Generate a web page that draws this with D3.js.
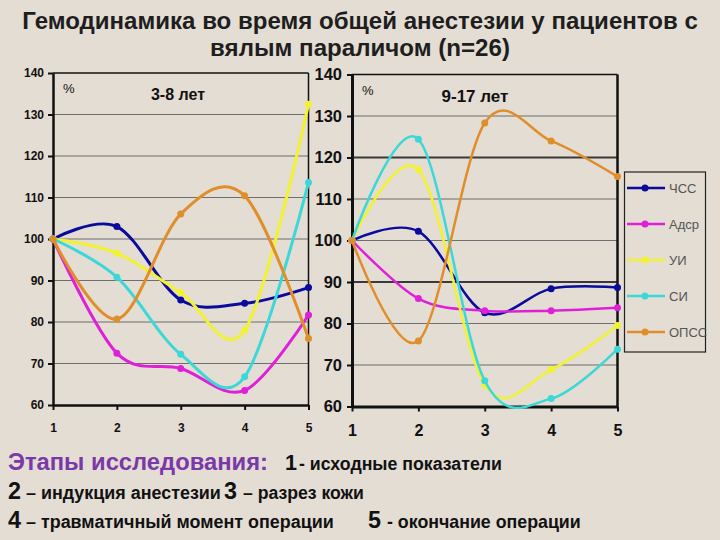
<!DOCTYPE html>
<html><head><meta charset="utf-8">
<script src="https://cdn.jsdelivr.net/npm/d3@7/dist/d3.min.js"></script>
<style>
html,body{margin:0;padding:0;background:#e3ddd3;}
svg{display:block;}
</style></head>
<body>
<svg id="c" width="720" height="540"></svg>
<script>
// ---- data ----
const stages = [1, 2, 3, 4, 5];
const yTicks = [60, 70, 80, 90, 100, 110, 120, 130, 140];
const seriesNames = ["ЧСС", "Адср", "УИ", "СИ", "ОПСС"];
const seriesColors = ["#0a0a9c", "#e020d8", "#f2f230", "#3cd8d8", "#e08e2a"];
// 3-8 лет
const young_CSS  = [100, 103.0, 85.3, 84.5, 88.3];
const young_Adr  = [100, 72.5, 68.8, 63.5, 81.7];
const young_UI   = [100, 96.6, 87.1, 78.0, 132.5];
const young_SI   = [100, 90.8, 72.2, 66.8, 113.6];
const young_OPSS = [100, 80.7, 106.0, 110.4, 76.0];
// 9-17 лет
const old_CSS  = [100, 102.2, 82.6, 88.4, 88.7];
const old_Adr  = [100, 86.0, 83.1, 83.1, 83.8];
const old_UI   = [100, 117.1, 65.2, 68.9, 79.5];
const old_SI   = [100, 124.4, 66.2, 61.9, 73.8];
const old_OPSS = [100, 75.8, 128.3, 124.0, 115.4];

const titleLines = ["Гемодинамика во время общей анестезии у пациентов с", "вялым параличом (n=26)"];

const svg = d3.select("#c");
const BOLD = "'Liberation Sans', Arial, sans-serif";
const NARROW = "'Liberation Sans Narrow', 'Arial Narrow', 'Liberation Sans', Arial, sans-serif";

function fit(t, w) {
  const n = t.node();
  const cur = n.getComputedTextLength();
  const fs = parseFloat(t.attr("font-size"));
  if (cur > 0) t.attr("font-size", (fs * w / cur).toFixed(2));
  return t;
}

// ---- title ----
fit(svg.append("text").attr("x", 360).attr("y", 29).attr("text-anchor", "middle")
  .attr("font-family", NARROW).attr("font-weight", "bold").attr("font-size", 24)
  .attr("fill", "#1e1e1e").text(titleLines[0]), 676);
fit(svg.append("text").attr("x", 360).attr("y", 56).attr("text-anchor", "middle")
  .attr("font-family", NARROW).attr("font-weight", "bold").attr("font-size", 24)
  .attr("fill", "#1e1e1e").text(titleLines[1]), 300);

function panel(cfg) {
  const x = d3.scaleLinear().domain([1, 5]).range([cfg.x0, cfg.x1]);
  const y = d3.scaleLinear().domain([60, 140]).range([cfg.y0, cfg.y1]);
  const g = svg.append("g");
  // gridlines
  g.selectAll("line.grid").data(yTicks.slice(1, -1)).join("line")
    .attr("x1", cfg.x0).attr("x2", cfg.x1)
    .attr("y1", d => y(d)).attr("y2", d => y(d))
    .attr("stroke", d => cfg.darkGrid.includes(d) ? "#3a3a3a" : "#6e6e6e")
    .attr("stroke-width", d => cfg.darkGrid.includes(d) ? 2 : 1.2);
  // frame top + right
  g.append("line").attr("x1", cfg.x0).attr("x2", cfg.x1).attr("y1", y(140)).attr("y2", y(140))
    .attr("stroke", "#111").attr("stroke-width", 1.5);
  g.append("line").attr("x1", cfg.x1).attr("x2", cfg.x1).attr("y1", y(140)).attr("y2", y(60))
    .attr("stroke", "#111").attr("stroke-width", cfg.rightW);
  // axes
  const ay = g.append("g").attr("transform", `translate(${cfg.x0},0)`)
    .call(d3.axisLeft(y).tickValues(yTicks).tickSize(5).tickSizeOuter(0).tickPadding(cfg.yPad));
  const ax = g.append("g").attr("transform", `translate(0,${cfg.y0})`)
    .call(d3.axisBottom(x).tickValues(stages).tickFormat(d3.format("d")).tickSize(5).tickSizeOuter(0).tickPadding(cfg.xPad));
  [ay, ax].forEach(a => {
    a.select(".domain").attr("stroke", "#111").attr("stroke-width", cfg.axisW);
    a.selectAll(".tick line").attr("stroke", "#111").attr("stroke-width", 2);
    a.selectAll(".tick text").attr("fill", "#111").attr("font-family", cfg.tickFont)
      .attr("font-weight", "bold").attr("font-size", cfg.tickSize);
  });
  ax.selectAll(".tick text").attr("font-size", cfg.xTickSize);
  // labels
  g.append("text").attr("x", cfg.x0 + 10).attr("y", y(140) + 20).attr("font-family", BOLD)
    .attr("font-size", 13).attr("fill", "#111").text("%");
  g.append("text").attr("x", cfg.labelX).attr("y", y(140) + 27).attr("text-anchor", "middle")
    .attr("font-family", cfg.labelFont).attr("font-weight", "bold").attr("font-size", cfg.labelSize)
    .attr("fill", "#111").text(cfg.label);
  // lines
  const line = d3.line().x((d, i) => x(stages[i])).y(d => y(d)).curve(d3.curveCardinal.tension(0));
  cfg.series.forEach((vals, k) => {
    g.append("path").attr("d", line(vals)).attr("fill", "none")
      .attr("stroke", seriesColors[k]).attr("stroke-width", cfg.lineW)
      .attr("stroke-linejoin", "round").attr("stroke-linecap", "round");
    g.selectAll(null).data(vals).join("circle")
      .attr("cx", (d, i) => x(stages[i])).attr("cy", d => y(d)).attr("r", 3.5)
      .attr("fill", seriesColors[k]);
  });
}

panel({
  x0: 53, x1: 308.5, y0: 405, y1: 73, darkGrid: [], rightW: 1.5, axisW: 2.5,
  yPad: 4, xPad: 13, tickFont: NARROW, tickSize: 12, xTickSize: 12,
  label: "3-8 лет", labelX: 178, labelFont: NARROW, labelSize: 16,
  lineW: 3,
  series: [young_CSS, young_Adr, young_UI, young_SI, young_OPSS]
});
panel({
  x0: 352, x1: 617.5, y0: 406.5, y1: 74.5, darkGrid: [90, 120], rightW: 2.5, axisW: 3,
  yPad: 5, xPad: 13, tickFont: BOLD, tickSize: 16.5, xTickSize: 16,
  label: "9-17 лет", labelX: 475, labelFont: BOLD, labelSize: 17,
  lineW: 2.5,
  series: [old_CSS, old_Adr, old_UI, old_SI, old_OPSS]
});

// ---- legend ----
const lg = svg.append("g");
lg.append("rect").attr("x", 624.5).attr("y", 172).attr("width", 81).attr("height", 180)
  .attr("fill", "none").attr("stroke", "#222").attr("stroke-width", 1.2);
const legY = d3.scalePoint().domain(seriesNames).range([188, 332]);
seriesNames.forEach((nm, k) => {
  const yy = legY(nm);
  lg.append("line").attr("x1", 627).attr("x2", 665).attr("y1", yy).attr("y2", yy)
    .attr("stroke", seriesColors[k]).attr("stroke-width", 2.5);
  lg.append("circle").attr("cx", 645).attr("cy", yy).attr("r", 3.5).attr("fill", seriesColors[k]);
  lg.append("text").attr("x", 669).attr("y", yy + 4.5).attr("font-family", BOLD)
    .attr("font-size", 13).attr("fill", "#555").text(nm);
});

// ---- bottom notes ----
function piece(x, y, txt, size, color, font, w) {
  const t = svg.append("text").attr("x", x).attr("y", y).attr("font-family", font)
    .attr("font-weight", "bold").attr("font-size", size).attr("fill", color).text(txt);
  if (w) fit(t, w);
  return t;
}
piece(8, 470, "Этапы исследования:", 21, "#7a38a8", BOLD, 260);
piece(285, 470, "1", 24, "#111", NARROW, 12);
piece(299, 470, "- исходные показатели", 18, "#111", NARROW, 203);
piece(8, 499, "2", 24, "#111", NARROW, 13);
piece(26, 499, "– индукция анестезии", 18, "#111", NARROW, 195);
piece(224, 499, "3", 24, "#111", NARROW, 13);
piece(243, 499, "– разрез кожи", 18, "#111", NARROW, 121);
piece(8, 528, "4", 24, "#111", NARROW, 13);
piece(26, 528, "– травматичный момент операции", 18, "#111", NARROW, 308);
piece(368, 528, "5", 24, "#111", NARROW, 13);
piece(387, 528, "- окончание операции", 18, "#111", NARROW, 194);
</script>
</body></html>
